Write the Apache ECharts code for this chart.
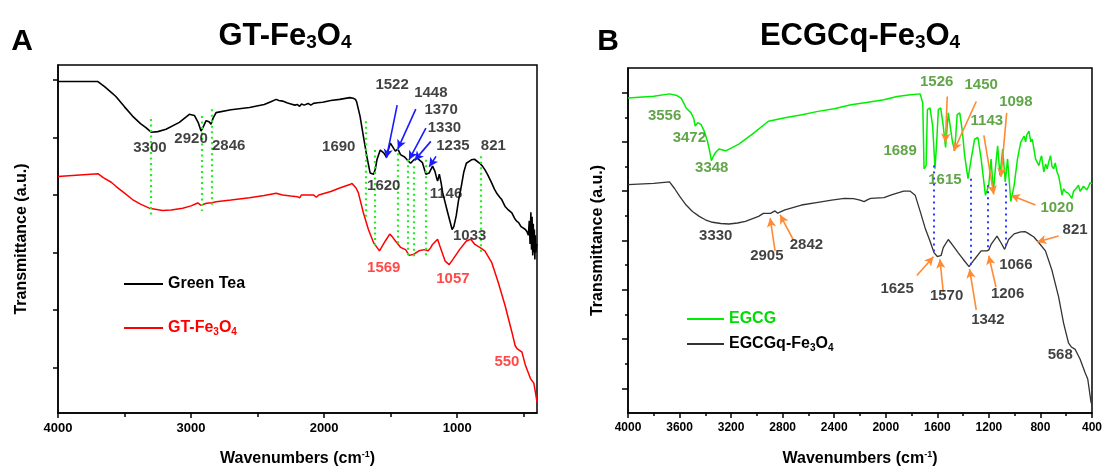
<!DOCTYPE html>
<html><head><meta charset="utf-8">
<script src="https://cdn.jsdelivr.net/npm/echarts@6/dist/echarts.min.js"></script>
<style>html,body{margin:0;padding:0;background:#fff}#c{width:1105px;height:472px}</style>
</head><body><div id="c"></div>
<script>
// ---------- DATA (wavenumber cm-1, transmittance a.u.) ----------
const greenTea = [[4000,5.97],[3700,5.97],[3650,5.88],[3600,5.78],[3565,5.71],[3500,5.53],[3440,5.37],[3380,5.24],[3339,5.17],[3300,5.09],[3289,5.09],[3250,5.10],[3188,5.14],[3088,5.26],[3013,5.40],[2975,5.38],[2945,5.25],[2925,5.11],[2905,5.20],[2887,5.29],[2865,5.27],[2850,5.23],[2835,5.33],[2812,5.43],[2700,5.48],[2561,5.52],[2450,5.57],[2400,5.62],[2360,5.66],[2340,5.64],[2312,5.63],[2280,5.60],[2250,5.58],[2220,5.56],[2200,5.57],[2184,5.54],[2170,5.58],[2150,5.56],[2120,5.59],[2100,5.56],[2080,5.59],[2050,5.60],[2011,5.61],[1950,5.64],[1883,5.66],[1807,5.69],[1781,5.68],[1765,5.66],[1756,5.62],[1730,5.37],[1705,5.02],[1679,4.67],[1654,4.38],[1628,4.36],[1615,4.45],[1603,4.61],[1578,4.78],[1552,4.73],[1532,4.66],[1515,4.80],[1502,4.90],[1491,4.93],[1475,4.80],[1464,4.76],[1446,4.80],[1426,4.70],[1413,4.73],[1395,4.66],[1376,4.61],[1350,4.55],[1325,4.61],[1300,4.64],[1287,4.65],[1261,4.56],[1235,4.36],[1211,4.38],[1185,4.50],[1167,4.41],[1155,4.30],[1147,4.24],[1134,4.36],[1120,4.20],[1109,4.04],[1071,3.69],[1038,3.40],[1025,3.45],[1007,3.64],[990,3.90],[969,4.15],[950,4.40],[931,4.55],[893,4.61],[870,4.62],[855,4.63],[830,4.55],[810,4.50],[792,4.44],[770,4.35],[741,4.21],[720,4.10],[700,4.02],[680,3.96],[665,3.92],[640,3.80],[620,3.75],[589,3.69],[570,3.60],[555,3.55],[538,3.52],[520,3.45],[505,3.42],[487,3.40],[475,3.36],[465,3.30],[458,3.55],[452,3.15],[446,3.70],[441,3.05],[437,3.62],[432,2.95],[428,3.50],[424,3.00],[420,3.40],[416,2.88],[412,3.30],[408,3.00],[404,3.15],[400,3.11]];
const gtFe3O4 = [[4000,4.32],[3700,4.37],[3660,4.30],[3600,4.22],[3565,4.15],[3500,4.03],[3440,3.92],[3380,3.84],[3314,3.77],[3214,3.73],[3150,3.74],[3063,3.77],[3000,3.81],[2950,3.86],[2935,3.86],[2925,3.82],[2910,3.84],[2890,3.85],[2870,3.86],[2862,3.83],[2850,3.86],[2812,3.88],[2700,3.91],[2561,3.95],[2450,3.99],[2360,4.03],[2312,4.00],[2250,3.98],[2200,3.97],[2184,3.95],[2170,4.00],[2133,4.00],[2080,4.00],[2058,3.96],[2040,4.00],[1950,4.06],[1883,4.12],[1807,4.18],[1790,4.20],[1781,4.19],[1760,4.12],[1743,4.04],[1705,3.69],[1667,3.40],[1628,3.17],[1600,3.08],[1584,3.03],[1569,3.05],[1540,3.20],[1507,3.32],[1490,3.28],[1464,3.20],[1426,3.09],[1388,3.05],[1360,2.95],[1350,2.92],[1325,2.97],[1287,3.03],[1248,3.05],[1218,3.03],[1200,3.08],[1185,3.14],[1147,3.23],[1121,3.05],[1090,2.85],[1060,2.79],[1032,2.88],[982,3.05],[931,3.20],[898,3.23],[867,3.14],[830,3.09],[792,3.03],[741,2.83],[691,2.48],[640,2.08],[589,1.62],[564,1.38],[550,1.33],[538,1.33],[513,1.27],[487,1.04],[449,0.81],[424,0.73],[410,0.55],[400,0.40]];
const egcg = [[4000,12.78],[3800,12.85],[3678,12.95],[3620,12.88],[3588,12.78],[3560,12.50],[3549,12.38],[3511,12.18],[3490,11.95],[3478,11.64],[3460,11.78],[3434,11.71],[3409,11.44],[3384,11.04],[3365,10.60],[3353,10.24],[3335,10.45],[3319,10.58],[3294,10.71],[3242,10.64],[3140,10.91],[3038,11.31],[2910,11.84],[2782,11.98],[2650,12.10],[2526,12.24],[2400,12.35],[2270,12.51],[2150,12.60],[2014,12.71],[1912,12.84],[1810,12.91],[1733,12.95],[1713,12.58],[1703,9.91],[1687,10.04],[1677,12.31],[1657,12.38],[1636,11.64],[1618,9.91],[1605,10.98],[1592,12.31],[1574,12.38],[1554,11.64],[1536,10.78],[1515,12.18],[1503,12.24],[1482,10.98],[1465,10.64],[1446,12.11],[1426,12.18],[1406,11.44],[1388,10.44],[1362,9.51],[1337,10.31],[1311,11.11],[1285,11.18],[1260,10.31],[1227,8.84],[1201,9.24],[1183,10.31],[1165,8.98],[1150,9.91],[1132,10.84],[1114,9.64],[1093,10.71],[1073,9.38],[1055,10.31],[1030,8.58],[1004,9.24],[978,10.31],[953,10.98],[940,10.90],[927,11.24],[915,11.00],[905,11.30],[889,11.44],[875,11.00],[863,11.11],[838,10.31],[812,10.04],[800,10.30],[791,10.44],[774,9.78],[760,10.10],[748,9.91],[735,10.20],[722,10.44],[710,10.00],[697,9.91],[685,10.15],[671,9.78],[658,9.60],[645,9.24],[633,8.84],[620,9.10],[607,8.98],[595,9.05],[582,8.91],[570,8.95],[556,8.71],[543,9.00],[530,8.98],[517,9.15],[505,9.24],[492,9.00],[479,8.98],[466,9.20],[453,9.24],[440,9.05],[428,9.18],[414,9.35],[400,9.31]];
const egcgqFe3O4 = [[4000,9.27],[3800,9.32],[3678,9.38],[3639,9.11],[3600,8.80],[3549,8.44],[3500,8.18],[3447,7.98],[3400,7.84],[3345,7.74],[3280,7.69],[3217,7.67],[3150,7.71],[3089,7.78],[2987,7.98],[2950,8.10],[2935,8.18],[2920,8.10],[2910,8.04],[2895,8.10],[2885,8.15],[2859,8.20],[2845,8.12],[2839,8.11],[2782,8.24],[2654,8.44],[2526,8.55],[2420,8.64],[2321,8.71],[2250,8.70],[2200,8.64],[2168,8.58],[2140,8.66],[2117,8.71],[2014,8.74],[1950,8.86],[1861,9.00],[1810,9.00],[1772,8.84],[1733,8.18],[1695,7.51],[1657,6.98],[1626,6.51],[1600,6.35],[1587,6.28],[1570,6.40],[1554,6.71],[1515,7.04],[1477,6.78],[1439,6.51],[1400,6.24],[1354,5.94],[1340,5.98],[1311,6.24],[1260,6.58],[1216,6.58],[1200,6.62],[1183,6.84],[1137,7.18],[1106,6.91],[1078,6.64],[1066,6.68],[1047,7.04],[1004,7.27],[953,7.35],[920,7.36],[901,7.31],[851,7.14],[812,6.91],[761,6.58],[710,5.78],[659,4.71],[620,3.64],[582,2.84],[560,2.68],[530,2.58],[492,2.18],[454,1.64],[433,1.38],[422,0.98],[415,0.71],[408,0.45],[400,0.35]];

// peak annotations [wavenumber, transmittance, text]
const peaksGreenTea = [[3309,4.81,'3300'],[3000,4.98,'2920'],[2717,4.85,'2846'],[1890,4.84,'1690'],[1489,5.91,'1522'],[1198,5.77,'1448'],[1121,5.47,'1370'],[1096,5.16,'1330'],[1032,4.86,'1235'],[728,4.86,'821'],[1552,4.16,'1620'],[1084,4.01,'1146'],[906,3.29,'1033']];
const peaksGTFe = [[1552,2.74,'1569'],[1032,2.54,'1057'],[626,1.10,'550']];
const peaksEGCG = [[3716,12.07,'3556'],[3524,11.18,'3472'],[3350,9.94,'3348'],[1889,10.63,'1689'],[1605,13.44,'1526'],[1260,13.31,'1450'],[991,12.64,'1098'],[1216,11.84,'1143'],[1541,9.48,'1615'],[671,8.31,'1020']];
const peaksEGCGq = [[3319,7.18,'3330'],[2923,6.38,'2905'],[2616,6.82,'2842'],[531,7.44,'821'],[991,6.02,'1066'],[1912,5.03,'1625'],[1528,4.74,'1570'],[1055,4.82,'1206'],[1208,3.78,'1342'],[646,2.34,'568']];

// guide lines [wavenumber, yTop, yBottom] and arrows [wnTail, yTail, wnHead, yHead]
const guidesA = [[3300,5.32,3.64],[2920,5.37,3.72],[2846,5.49,3.80],[1690,5.28,3.58],[1620,4.78,3.09],[1448,4.82,3.11],[1370,4.61,2.94],[1330,4.50,2.88],[1235,4.61,2.94],[821,4.67,2.97]];
const arrowsA = [[1451,5.56,1532,4.64],[1311,5.49,1446,4.80],[1235,5.16,1362,4.61],[1198,4.93,1320,4.60],[1159,4.67,1210,4.49]];
const guidesB = [[1625,10.04,6.44],[1342,9.51,5.91],[1206,9.24,6.58],[1066,9.31,6.71]];
const arrowsB = [[1523,12.84,1538,10.98],[1298,12.64,1472,10.64],[1239,11.27,1162,8.87],[1062,12.18,1106,9.58],[838,8.44,1029,8.84],[659,7.18,825,6.94],[1759,5.58,1630,6.34],[1554,4.91,1580,6.24],[1298,4.18,1350,5.84],[1145,5.11,1201,6.38],[2859,6.58,2897,7.91],[2718,7.04,2820,8.04]];

// axis ticks
const xTicksA = [1000,2000,3000,4000];
const xMinorTicksA = [500,1500,2500,3500];
const yTicksA = [1,2,3,4,5,6];
const yMajorTicksB = [1,3,5,7,9,11,13];
const yMinorTicksB = [2,4,6,8,10,12];

// ---------- CHART ----------
const FONT = 'Arial, "Liberation Sans", sans-serif';
const chart = echarts.init(document.getElementById('c'));
const axisLine = {show:true, lineStyle:{color:'#000', width:1.5}};
const tickStyle = {color:'#000', width:1.5};
const plain = v => String(v);
const xName = '{a|Wavenumbers (cm}{b|-1}{a|)}';
const xNameStyle = {rich:{a:{fontFamily:FONT,fontWeight:'bold',fontSize:16,color:'#000'},b:{fontFamily:FONT,fontWeight:'bold',fontSize:9,color:'#000',padding:[0,0,9,0]}}};
const yNameStyle = {fontFamily:FONT,fontWeight:'bold',fontSize:16,color:'#000'};

function guideLines(list){ return list.map(d => [{coord:[d[0],d[1]]},{coord:[d[0],d[2]]}]); }
function arrows(list){ return list.map(d => [{coord:[d[0],d[1]]},{coord:[d[2],d[3]]}]); }
function labelSeries(list, xi, yi, color){
  return {type:'scatter', xAxisIndex:xi, yAxisIndex:yi, symbolSize:1, silent:true, z:10,
    itemStyle:{color:'rgba(0,0,0,0)'},
    label:{show:true, position:'inside', formatter:p=>p.data[2], color:color, fontFamily:FONT, fontWeight:'bold', fontSize:15},
    data:list};
}
const subRich = (c)=>({
  t:{fontFamily:FONT,fontWeight:'bold',fontSize:16,color:c},
  s:{fontFamily:FONT,fontWeight:'bold',fontSize:10,color:c,padding:[9,0,0,0]}
});

const option = {
  animation:false,
  textStyle:{fontFamily:FONT},
  grid:[
    {left:58, top:65, width:479, height:353, show:true, borderColor:'#000', borderWidth:1.5, backgroundColor:'#fff'},
    {left:628, top:68, width:469, height:350, show:true, borderColor:'#000', borderWidth:1.5, backgroundColor:'#fff'}
  ],
  xAxis:[
    {gridIndex:0, type:'value', min:400, max:4000, inverse:true, position:'bottom', axisLine,
      axisTick:{customValues:xTicksA, length:5, lineStyle:tickStyle},
      axisLabel:{customValues:xTicksA, formatter:plain, color:'#000', fontWeight:'bold', fontSize:13, margin:9},
      splitLine:{show:false}, name:xName, nameLocation:'middle', nameGap:37, nameTextStyle:xNameStyle},
    {gridIndex:0, type:'value', min:400, max:4000, inverse:true, position:'bottom', axisLine:{show:false},
      axisTick:{customValues:xMinorTicksA, length:4, lineStyle:tickStyle}, axisLabel:{show:false}, splitLine:{show:false}},
    {gridIndex:1, type:'value', min:400, max:4000, interval:400, inverse:true, position:'bottom', axisLine,
      axisTick:{length:5, lineStyle:tickStyle},
      minorTick:{show:true, splitNumber:2, length:3, lineStyle:tickStyle},
      axisLabel:{formatter:plain, color:'#000', fontWeight:'bold', fontSize:12, margin:9},
      splitLine:{show:false}, name:xName, nameLocation:'middle', nameGap:37, nameTextStyle:xNameStyle}
  ],
  yAxis:[
    {gridIndex:0, type:'value', min:0.212, max:6.257, axisLine,
      axisTick:{customValues:yTicksA, length:5, lineStyle:tickStyle}, axisLabel:{show:false}, splitLine:{show:false},
      name:'Transmittance (a.u.)', nameLocation:'middle', nameGap:28, nameTextStyle:yNameStyle},
    {gridIndex:1, type:'value', min:0, max:14, axisLine,
      axisTick:{customValues:yMajorTicksB, length:6, lineStyle:tickStyle}, axisLabel:{show:false}, splitLine:{show:false},
      name:'Transmittance (a.u.)', nameLocation:'middle', nameGap:22, nameTextStyle:yNameStyle},
    {gridIndex:1, type:'value', min:0, max:14, position:'left', axisLine:{show:false},
      axisTick:{customValues:yMinorTicksB, length:3, lineStyle:tickStyle}, axisLabel:{show:false}, splitLine:{show:false}}
  ],
  legend:[
    {left:123, top:276, padding:0, orient:'vertical', itemGap:28, itemWidth:39, itemHeight:14, itemStyle:{opacity:0},
      textStyle:{fontFamily:FONT, fontWeight:'bold', fontSize:16, rich:subRich('#ff0000')},
      formatter:n => n==='GT-Fe3O4' ? '{t|GT-Fe}{s|3}{t|O}{s|4}' : n,
      data:[{name:'Green Tea', textStyle:{color:'#000'}},{name:'GT-Fe3O4', textStyle:{color:'#ff0000'}}]},
    {left:686, top:311, padding:0, orient:'vertical', itemGap:9, itemWidth:37, itemHeight:14, itemStyle:{opacity:0},
      textStyle:{fontFamily:FONT, fontWeight:'bold', fontSize:16, rich:subRich('#000')},
      formatter:n => n==='EGCGq-Fe3O4' ? '{t|EGCGq-Fe}{s|3}{t|O}{s|4}' : n,
      data:[{name:'EGCG', textStyle:{color:'#00dd00'}},{name:'EGCGq-Fe3O4', textStyle:{color:'#000'}}]}
  ],
  graphic:[
    {type:'text', x:22, y:42, style:{text:'A', font:'bold 30px '+FONT, fill:'#000', align:'center', verticalAlign:'middle', textAlign:'center', textVerticalAlign:'middle'}},
    {type:'text', x:608, y:42, style:{text:'B', font:'bold 30px '+FONT, fill:'#000', align:'center', verticalAlign:'middle', textAlign:'center', textVerticalAlign:'middle'}},
    {type:'text', x:285, y:36, style:{text:'{t|GT-Fe}{s|3}{t|O}{s|4}', align:'center', verticalAlign:'middle', textAlign:'center', textVerticalAlign:'middle',
      rich:{t:{font:'bold 31px '+FONT, fill:'#000', color:'#000'}, s:{font:'bold 19px '+FONT, fill:'#000', color:'#000', padding:[14,0,0,0]}}}},
    {type:'text', x:860, y:36, style:{text:'{t|ECGCq-Fe}{s|3}{t|O}{s|4}', align:'center', verticalAlign:'middle', textAlign:'center', textVerticalAlign:'middle',
      rich:{t:{font:'bold 31px '+FONT, fill:'#000', color:'#000'}, s:{font:'bold 19px '+FONT, fill:'#000', color:'#000', padding:[14,0,0,0]}}}}
  ],
  series:[
    {name:'Green Tea', type:'line', xAxisIndex:0, yAxisIndex:0, data:greenTea, symbol:'none', color:'#000', lineStyle:{width:1.6, color:'#000'},
      markLine:{silent:true, animation:false, symbol:['none','none'], label:{show:false}, emphasis:{disabled:true},
        lineStyle:{color:'#22ee22', width:2.2, type:[2,3.5]}, data:guideLines(guidesA)}},
    {name:'GT-Fe3O4', type:'line', xAxisIndex:0, yAxisIndex:0, data:gtFe3O4, symbol:'none', color:'#ff0000', lineStyle:{width:1.5, color:'#ff0000'},
      markLine:{silent:true, animation:false, symbol:['none','arrow'], symbolSize:[7,9], label:{show:false}, emphasis:{disabled:true},
        lineStyle:{color:'#1a1aff', width:1.6, type:'solid'}, data:arrows(arrowsA)}},
    {name:'EGCG', type:'line', xAxisIndex:2, yAxisIndex:1, data:egcg, symbol:'none', color:'#00ee00', lineStyle:{width:1.5, color:'#00ee00'},
      markLine:{silent:true, animation:false, symbol:['none','none'], label:{show:false}, emphasis:{disabled:true},
        lineStyle:{color:'#2a3cff', width:2, type:[2,4]}, data:guideLines(guidesB)}},
    {name:'EGCGq-Fe3O4', type:'line', xAxisIndex:2, yAxisIndex:1, data:egcgqFe3O4, symbol:'none', color:'#333', lineStyle:{width:1.3, color:'#333'},
      markLine:{silent:true, animation:false, symbol:['none','arrow'], symbolSize:[7,9], label:{show:false}, emphasis:{disabled:true},
        lineStyle:{color:'#ff8a33', width:1.6, type:'solid'}, data:arrows(arrowsB)}},
    labelSeries(peaksGreenTea, 0, 0, '#111'),
    labelSeries(peaksGTFe, 0, 0, '#ff1a1a'),
    labelSeries(peaksEGCG, 2, 1, '#3a8f1c'),
    labelSeries(peaksEGCGq, 2, 1, '#111')
  ]
};
chart.setOption(option);
</script></body></html>
